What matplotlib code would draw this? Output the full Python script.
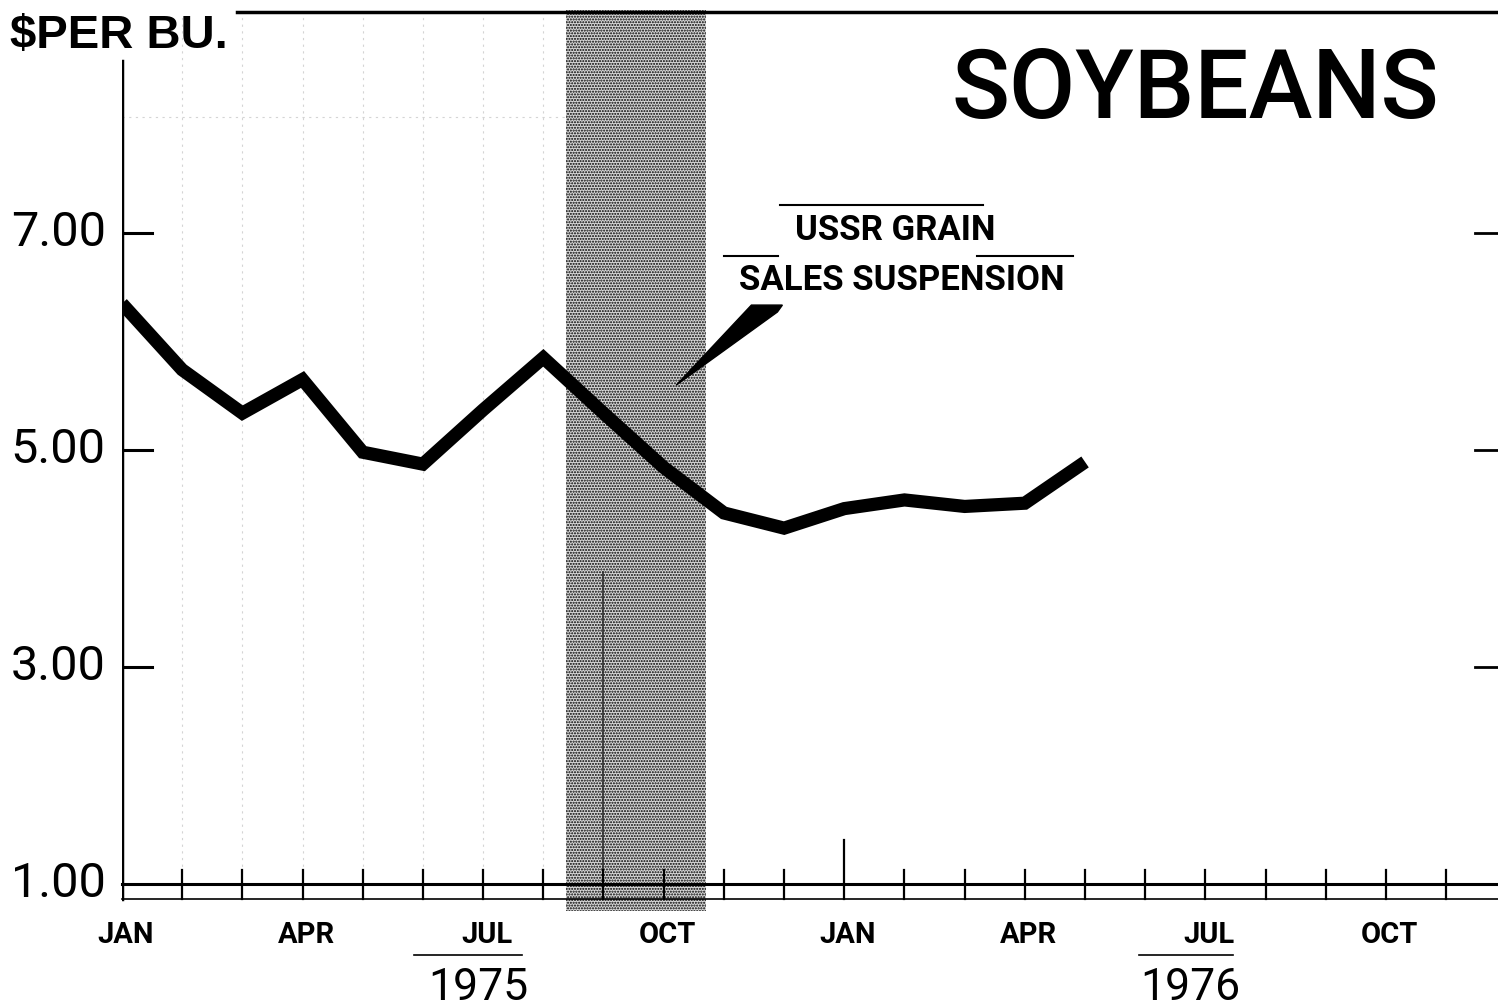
import numpy as np
import matplotlib.pyplot as plt
import matplotlib as mpl

# monthly soybean price, $ per bushel, Jan 1975 .. May 1976
months = list(range(17))
price = [6.35, 5.74, 5.34, 5.65, 4.98, 4.87, 5.37, 5.85, 5.34, 4.84,
         4.42, 4.28, 4.46, 4.54, 4.48, 4.51, 4.89]

month_labels = ["JAN", "APR", "JUL", "OCT", "JAN", "APR", "JUL", "OCT"]
label_pos = [0, 3, 6, 9, 12, 15, 18, 21]
year_labels = ["1975", "1976"]
year_pos = [5.92, 17.75]
ytick_vals = [1.0, 3.0, 5.0, 7.0]
susp_start, susp_end = 7.38, 9.71   # USSR grain sales suspension

mpl.rcParams['hatch.linewidth'] = 1.0
fig = plt.figure(figsize=(14.98, 10.07), dpi=100)
ax = fig.add_axes([0.0814, 0.0953, 1 - 0.0814, 0.990 - 0.0953])
xmax = 22.86
ax.set_xlim(0, xmax)
ax.set_ylim(0.751, 9.055)
for s in ax.spines.values():
    s.set_visible(False)
ax.set_xticks([])
ax.set_yticks([])

# faint graph-paper lines
for m in range(1, 8):
    ax.plot([m, m], [1.1, 9.0], color="#d4d4d4", lw=0.8, ls=(0, (2, 4)), zorder=0)
ax.plot([0, 8.5], [8.07, 8.07], color="#d4d4d4", lw=0.8, ls=(0, (2, 4)), zorder=0)

# shaded suspension period (halftone)
ax.axvspan(susp_start, susp_end, ymin=0.0, ymax=1.0, facecolor="#d8d8d8",
           hatch="......", edgecolor="black", lw=0, zorder=1)
ax.plot([8, 8], [0.86, 3.88], color="#303030", lw=1.2, zorder=2)

# axes lines
ax.plot([0, xmax], [1.0, 1.0], color="black", lw=2.2, clip_on=False, zorder=3)
ax.plot([0, xmax], [0.86, 0.86], color="black", lw=1.2, clip_on=False, zorder=3)
ax.plot([0, 0], [0.86, 8.585], color="black", lw=2.5, zorder=3)
ax.plot([1.91, xmax], [9.04, 9.04], color="black", lw=2.5, clip_on=False, zorder=3)

# month ticks
for m in range(23):
    top = 1.41 if m == 12 else 1.13
    ax.plot([m, m], [0.86, top], color="black", lw=1.6, zorder=3)

# y ticks (left and right) and labels
for v in ytick_vals:
    if v > 1:
        ax.plot([0, 0.5], [v, v], color="black", lw=2.2, zorder=3)
        ax.plot([xmax - 0.38, xmax], [v, v], color="black", lw=2.0, zorder=3, clip_on=False)
    ax.text(-0.27, v, "%.2f" % v, ha="right", va="center", fontsize=35,
            family="Roboto")

for lab, p in zip(month_labels, label_pos):
    ax.text(p + 0.06, 0.53, lab, ha="center", va="center", fontsize=21,
            fontweight="bold", family="Roboto")
for lab, p in zip(year_labels, year_pos):
    ax.text(p, 0.04, lab, ha="center", va="center", fontsize=32,
            family="Roboto", clip_on=False)
ax.plot([4.85, 6.65], [0.35, 0.35], color="black", lw=1.2, clip_on=False)
ax.plot([16.9, 18.45], [0.35, 0.35], color="black", lw=1.2, clip_on=False)

# price line
ax.plot(months, price, color="black", lw=9.5, solid_joinstyle="miter",
        solid_capstyle="butt", zorder=4)

# annotation
ax.text(12.85, 7.02, "USSR GRAIN", ha="center", va="center", fontsize=25,
        fontweight="bold", family="Roboto")
ax.text(12.95, 6.56, "SALES SUSPENSION", ha="center", va="center", fontsize=25,
        fontweight="bold", family="Roboto")
ax.plot([10.94, 14.3], [7.26, 7.26], color="black", lw=1.5)
ax.plot([10.01, 10.9], [6.79, 6.79], color="black", lw=1.5)
ax.plot([14.2, 15.8], [6.79, 6.79], color="black", lw=1.5)
wedge = plt.Polygon([(10.457, 6.336), (10.972, 6.336), (10.889, 6.272), (9.21, 5.599)],
                    closed=True, color="black", zorder=4)
ax.add_patch(wedge)

fig.text(10 / 1498, 1 - 36 / 1007, "$PER BU.", ha="left", va="center",
         fontsize=34, fontweight="bold", family="Liberation Sans")
fig.text(1195 / 1498, 1 - 92 / 1007, "SOYBEANS", ha="center", va="center",
         fontsize=69, fontweight="medium", family="Roboto")

fig.savefig("out.png", dpi=100)
